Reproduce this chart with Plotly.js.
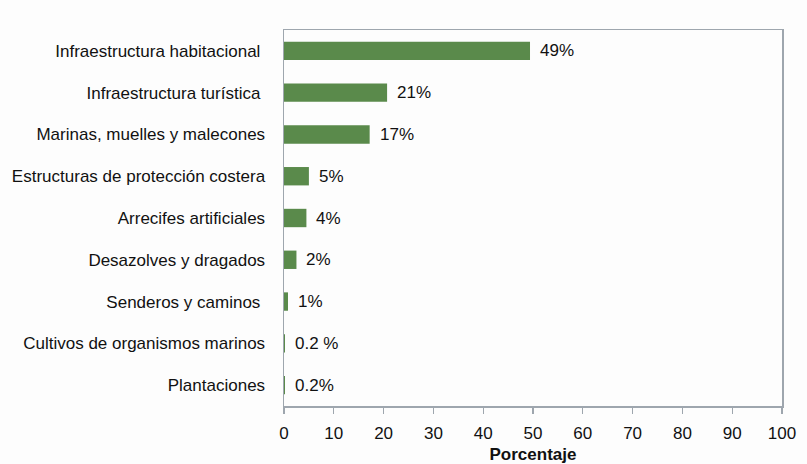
<!DOCTYPE html>
<html>
<head>
<meta charset="utf-8">
<script src="https://cdn.plot.ly/plotly-3.0.1.min.js"></script>
<style>html,body{margin:0;padding:0;background:#fdfdfd;}#chart{width:807px;height:464px;}</style>
</head>
<body>
<div id="chart"></div>
<script>
const categories = [
  "Infraestructura habitacional\u00a0",
  "Infraestructura turística\u00a0",
  "Marinas, muelles y malecones",
  "Estructuras de protección costera",
  "Arrecifes artificiales",
  "Desazolves y dragados",
  "Senderos y caminos\u00a0",
  "Cultivos de organismos marinos",
  "Plantaciones"
];
const values = [49.4, 20.7, 17.2, 5.0, 4.5, 2.5, 0.8, 0.2, 0.2];
const valueLabels = ["49%", "21%", "17%", "5%", "4%", "2%", "1%", "0.2 %", "0.2%"];
const xTicks = [0, 10, 20, 30, 40, 50, 60, 70, 80, 90, 100];

const FONT = "Liberation Sans, Arial, sans-serif";
const axisColor = "#9ea6ae";

const trace = {
  type: "bar",
  orientation: "h",
  x: values,
  y: categories,
  marker: {color: "#5a8a4b", line: {width: 0}},
  hoverinfo: "skip"
};

const annotations = values.map((v, i) => ({
  x: v, y: categories[i], xref: "x", yref: "y",
  text: valueLabels[i], showarrow: false,
  xanchor: "left", yanchor: "middle", xshift: 8,
  font: {family: FONT, size: 17, color: "#111111"}
}));

const layout = {
  width: 807, height: 464,
  margin: {l: 283.5, r: 24.5, t: 30, b: 58},
  paper_bgcolor: "#fdfdfd",
  plot_bgcolor: "#fdfdfd",
  showlegend: false,
  bargap: 0.56,
  xaxis: {
    range: [0, 100],
    tickvals: xTicks,
    ticktext: xTicks.map(String),
    showgrid: false, zeroline: false,
    showline: true, linecolor: axisColor, linewidth: 1.5, mirror: true,
    ticks: "outside", ticklen: 6, tickcolor: axisColor, tickwidth: 1.2,
    ticklabelstandoff: 5,
    tickfont: {family: FONT, size: 17, color: "#111111"},
    title: {text: "<b>Porcentaje</b>", font: {family: FONT, size: 17, color: "#111111"}, standoff: 14}
  },
  yaxis: {
    autorange: "reversed",
    type: "category",
    showgrid: false, zeroline: false,
    showline: true, linecolor: axisColor, linewidth: 1.5, mirror: true,
    ticks: "", ticklabelstandoff: 14,
    tickfont: {family: FONT, size: 17, color: "#111111"}
  },
  annotations: annotations
};

Plotly.newPlot("chart", [trace], layout, {displayModeBar: false, staticPlot: true});
</script>
</body>
</html>
